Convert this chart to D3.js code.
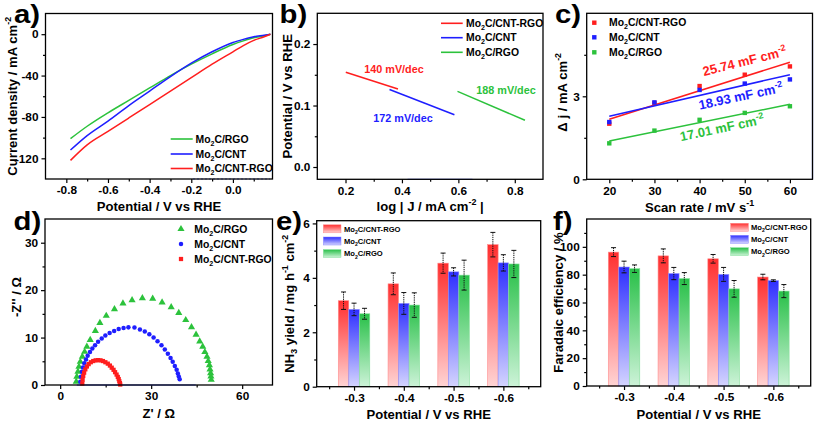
<!DOCTYPE html>
<html><head><meta charset="utf-8">
<script src="https://cdn.jsdelivr.net/npm/d3@7"></script>
<style>
body{margin:0;background:#fff}
svg{display:block}
text{font-family:"Liberation Sans",Arial,sans-serif;font-weight:bold;fill:#000}
</style></head><body>
<svg id="fig" width="817" height="424"></svg>
<script>
// ---------------- DATA ----------------
const seriesNames = ["Mo2C/CNT-RGO", "Mo2C/CNT", "Mo2C/RGO"];

// (a) LSV
const lsvPotential = [-0.78, -0.7, -0.6, -0.5, -0.4, -0.3, -0.2, -0.1, 0, 0.05, 0.1, 0.15, 0.18];
const lsvCntRgo = [-122, -107, -94, -81, -68, -55, -42, -29, -17, -11, -6, -2.5, 0];
const lsvCnt    = [-112, -98, -84, -69, -55, -41, -28, -17, -8, -5, -2.5, -1, 0];
const lsvRgo    = [-101, -89, -76, -64, -52, -40, -29, -19, -10, -6.5, -3.5, -1.5, 0];

// (b) Tafel segments
const tafelCntRgoX = [0.201, 0.386], tafelCntRgoY = [0.154, 0.127];
const tafelCntX    = [0.356, 0.586], tafelCntY    = [0.126, 0.085];
const tafelRgoX    = [0.597, 0.836], tafelRgoY    = [0.123, 0.076];
const tafelLabels  = ["140 mV/dec", "172 mV/dec", "188 mV/dec"];

// (c) double-layer capacitance
const scanRate  = [20, 30, 40, 50, 60];
const cdlCntRgo = [2.01, 2.76, 3.37, 3.78, 4.08];
const cdlCnt    = [2.07, 2.78, 3.23, 3.46, 3.61];
const cdlRgo    = [1.30, 1.76, 2.15, 2.40, 2.64];
const cdlLabels = ["25.74 mF cm", "18.93 mF cm", "17.01 mF cm"];

// (d) Nyquist
const eisRgoRe = [5.3,5.5,5.86,6.2,6.63,7.3,8.07,8.8,9.9,11.6,13.1,15.2,17.9,20.7,23.7,27.1,30.5,33.6,36.6,39.1,41.4,43.3,44.8,46.0,47.0,47.7,48.4,48.8,49.2,49.4,49.6,49.7,49.8];
const eisRgoIm = [0.7,1.75,2.8,3.86,4.9,5.96,7.0,8.07,9.5,11.4,13.1,14.6,16.0,17.2,17.9,18.3,18.2,17.4,16.4,15.2,13.7,12.2,10.6,9.2,8.07,6.95,5.96,5.05,4.2,3.3,2.5,1.8,1.1];
const eisCntRe = [6.63,6.85,7.18,7.51,7.95,8.51,9.06,9.83,10.6,11.5,12.5,13.7,14.9,16.3,17.8,19.3,20.9,22.5,24.5,26.3,27.9,29.4,30.8,32.1,33.4,34.5,35.5,36.4,37.1,37.8,38.4,38.8,39.1,39.4];
const eisCntIm = [0.7,1.75,2.8,3.7,4.56,5.4,6.17,6.95,7.7,8.4,9.12,9.8,10.45,10.95,11.4,11.8,12.0,12.15,12.1,11.7,11.3,10.7,10.0,9.2,8.4,7.5,6.6,5.7,4.9,4.0,3.2,2.4,1.8,1.2];
const eisCntRgoRe = [7.3,7.4,7.6,7.9,8.3,8.8,9.4,10.1,10.9,11.7,12.5,13.3,14.1,14.9,15.7,16.4,17.0,17.6,18.1,18.6,19.0,19.3,19.5,19.7,19.8];
const eisCntRgoIm = [0.3,1.1,1.9,2.6,3.3,3.9,4.4,4.8,5.05,5.2,5.25,5.2,5.05,4.8,4.5,4.1,3.65,3.2,2.7,2.2,1.7,1.25,0.8,0.4,0.1];

// (e) NH3 yield
const potentials = [-0.3, -0.4, -0.5, -0.6];
const nh3CntRgo = [3.16, 3.78, 4.54, 5.22], nh3CntRgoErr = [0.32, 0.40, 0.37, 0.45];
const nh3Cnt    = [2.84, 3.06, 4.22, 4.55], nh3CntErr    = [0.23, 0.40, 0.15, 0.30];
const nh3Rgo    = [2.68, 3.00, 4.10, 4.51], nh3RgoErr    = [0.20, 0.45, 0.55, 0.50];

// (f) Faradaic efficiency
const feCntRgo = [96.2, 93.5, 91.4, 78.3], feCntRgoErr = [3.2, 5.0, 3.1, 2.0];
const feCnt    = [85.5, 80.8, 80.2, 75.7], feCntErr    = [4.2, 4.4, 5.0, 0.6];
const feRgo    = [84.3, 77.2, 69.8, 68.2], feRgoErr    = [2.7, 4.3, 6.0, 4.7];

// ---------------- DRAWING ----------------
const svg = d3.select("#fig");
const COL = {red: "#ff1e1e", blue: "#1e1eff", green: "#2cc23c"};
const TICK_FS = 11.8, TITLE_FS = 13.1;

function rich(t, parts, fs) {
  let shift = 0;
  parts.forEach(([s, k]) => {
    const target = k === "sub" ? fs * 0.3 : k === "sup" ? -fs * 0.42 : 0;
    const ts = t.append("tspan").text(s).attr("dy", target - shift);
    if (k !== "n") ts.attr("font-size", fs * 0.68);
    shift = target;
  });
  return t;
}
const moParts = (rest) => [["Mo", "n"], ["2", "sub"], ["C/" + rest, "n"]];

function styleAxis(sel) {
  sel.select(".domain").remove();
  sel.selectAll("line").attr("stroke", "#000").attr("stroke-width", 1.2);
  sel.selectAll("text").attr("font-size", TICK_FS).attr("font-weight", "bold").attr("fill", "#000")
     .style("font-family", '"Liberation Sans", Arial, sans-serif');
}
function fmt1(d) { return d.toFixed(1); }

function panelLabel(txt, x, y) {
  svg.append("text").attr("transform", `translate(${x},${y}) scale(1.15,1)`).attr("font-size", 25.5).text(txt);
}

function panel(o) {
  const g = svg.append("g");
  const [xa, xb] = o.x.range(), [yb, ya] = o.y.range();
  g.append("g").attr("transform", `translate(0,${yb})`)
    .call(d3.axisBottom(o.x).tickValues(o.xMajor).tickSize(4).tickSizeOuter(0).tickFormat(o.xFmt || (d => d)))
    .call(styleAxis);
  if (o.xMinor) g.append("g").attr("transform", `translate(0,${yb})`)
    .call(d3.axisBottom(o.x).tickValues(o.xMinor).tickSize(2.5).tickSizeOuter(0).tickFormat(""))
    .call(styleAxis);
  g.append("g").attr("transform", `translate(${xa},0)`)
    .call(d3.axisLeft(o.y).tickValues(o.yMajor).tickSize(4).tickSizeOuter(0).tickFormat(o.yFmt || (d => d)))
    .call(styleAxis);
  if (o.yMinor) g.append("g").attr("transform", `translate(${xa},0)`)
    .call(d3.axisLeft(o.y).tickValues(o.yMinor).tickSize(2.5).tickSizeOuter(0).tickFormat(""))
    .call(styleAxis);
  const plot = g.append("g");
  g.append("rect").attr("x", xa).attr("y", ya).attr("width", xb - xa).attr("height", yb - ya)
    .attr("fill", "none").attr("stroke", "#000").attr("stroke-width", 1.3);
  const xt = g.append("text").attr("x", (xa + xb) / 2).attr("y", o.xTitleY).attr("text-anchor", "middle").attr("font-size", TITLE_FS);
  rich(xt, o.xTitle, TITLE_FS);
  const yt = g.append("text").attr("transform", `translate(${o.yTitleX},${(ya + yb) / 2 + (o.yTitleDy || 0)}) rotate(-90)`)
    .attr("text-anchor", "middle").attr("font-size", TITLE_FS);
  rich(yt, o.yTitle, TITLE_FS);
  panelLabel(o.label[0], o.label[1], o.label[2]);
  return plot;
}

function lineLegend(rows, x0, x1, tx, ys, fs) {
  rows.forEach((r, i) => {
    svg.append("line").attr("x1", x0).attr("x2", x1).attr("y1", ys[i]).attr("y2", ys[i])
      .attr("stroke", r.c).attr("stroke-width", 1.6);
    rich(svg.append("text").attr("x", tx).attr("y", ys[i] + fs * 0.35).attr("font-size", fs), moParts(r.n), fs);
  });
}

// ===== (a) =====
{
  const x = d3.scaleLinear().domain([-0.9, 0.19]).range([45.5, 272.5]);
  const y = d3.scaleLinear().domain([-140, 20]).range([179, 13.5]);
  const p = panel({x, y, xMajor: [-0.8, -0.6, -0.4, -0.2, 0], xMinor: [-0.7, -0.5, -0.3, -0.1, 0.1], xFmt: fmt1,
    yMajor: [-120, -80, -40, 0], yMinor: [-100, -60, -20],
    xTitle: [["Potential / V vs RHE", "n"]], xTitleY: 211,
    yTitle: [["Current density / mA cm", "n"], ["-2", "sup"]], yTitleX: 16.5, label: ["a)", 14, 22.5]});
  const ln = d3.line().x(d => x(d[0])).y(d => y(d[1])).curve(d3.curveMonotoneX);
  [[lsvRgo, COL.green], [lsvCnt, COL.blue], [lsvCntRgo, COL.red]].forEach(([v, c]) => {
    p.append("path").attr("d", ln(lsvPotential.map((xv, i) => [xv, v[i]]))).attr("fill", "none")
      .attr("stroke", c).attr("stroke-width", 1.5);
  });
  p.append("line").attr("x1", 193).attr("x2", 270).attr("y1", 179).attr("y2", 179).attr("stroke", "#6a7cff").attr("stroke-width", 1).attr("stroke-dasharray", "2,2");
  lineLegend([{n: "RGO", c: COL.green}, {n: "CNT", c: COL.blue}, {n: "CNT-RGO", c: COL.red}], 170.7, 192.7, 195.5, [139, 154, 168.5], 10.4);
}

// ===== (b) =====
{
  const x = d3.scaleLinear().domain([0.1, 0.9]).range([317.3, 543]);
  const y = d3.scaleLinear().domain([-0.02, 0.25]).range([179.3, 13.3]);
  const p = panel({x, y, xMajor: [0.2, 0.4, 0.6, 0.8], xMinor: [0.3, 0.5, 0.7], xFmt: fmt1,
    yMajor: [0, 0.1, 0.2], yMinor: [0.05, 0.15], yFmt: fmt1,
    xTitle: [["log | J / mA cm", "n"], ["-2", "sup"], [" |", "n"]], xTitleY: 211,
    yTitle: [["Potential / V vs RHE", "n"]], yTitleX: 292, label: ["b)", 279.5, 22.5]});
  p.append("line").attr("x1", x(0.42)).attr("x2", x(0.65)).attr("y1", 179.3).attr("y2", 179.3).attr("stroke", "#4a5cff").attr("stroke-width", 1);
  const segs = [[tafelCntRgoX, tafelCntRgoY, COL.red], [tafelCntX, tafelCntY, COL.blue], [tafelRgoX, tafelRgoY, COL.green]];
  segs.forEach(([xs, ys, c]) => {
    p.append("line").attr("x1", x(xs[0])).attr("y1", y(ys[0])).attr("x2", x(xs[1])).attr("y2", y(ys[1]))
      .attr("stroke", c).attr("stroke-width", 1.5);
  });
  const annPos = [[394, 72.5, COL.red], [403, 121.5, COL.blue], [506, 93.5, COL.green]];
  tafelLabels.forEach((t, i) => svg.append("text").attr("x", annPos[i][0]).attr("y", annPos[i][1]).attr("text-anchor", "middle")
    .attr("font-size", 10.8).style("fill", annPos[i][2]).text(t));
  lineLegend([{n: "CNT-RGO", c: COL.red}, {n: "CNT", c: COL.blue}, {n: "RGO", c: COL.green}], 441, 462.7, 466, [23.3, 37.7, 52.3], 10.4);
}

// ===== (c) =====
{
  const x = d3.scaleLinear().domain([15, 65]).range([586.7, 812.5]);
  const y = d3.scaleLinear().domain([0, 6]).range([179.3, 13.3]);
  const p = panel({x, y, xMajor: [20, 30, 40, 50, 60], xMinor: [25, 35, 45, 55],
    yMajor: [0, 3], yMinor: [1.5, 4.5],
    xTitle: [["Scan rate / mV s", "n"], ["-1", "sup"]], xTitleY: 211.5,
    yTitle: [["\u0394 j / mA cm", "n"], ["-2", "sup"]], yTitleX: 566.5, yTitleDy: -4, label: ["c)", 555, 22.5]});
  p.append("line").attr("x1", 812.5).attr("x2", 812.5).attr("y1", 40).attr("y2", 179).attr("stroke", "#4a5cff").attr("stroke-width", 1.2);
  const sets = [[cdlCntRgo, COL.red], [cdlCnt, COL.blue], [cdlRgo, COL.green]];
  sets.forEach(([v, c]) => {
    const mx = d3.mean(scanRate), my = d3.mean(v);
    const slope = d3.sum(scanRate, (s, i) => (s - mx) * (v[i] - my)) / d3.sum(scanRate, s => (s - mx) ** 2);
    const f = s => my + slope * (s - mx);
    p.append("line").attr("x1", x(20)).attr("y1", y(f(20))).attr("x2", x(60)).attr("y2", y(f(60)))
      .attr("stroke", c).attr("stroke-width", 1.5);
    p.selectAll(null).data(scanRate).enter().append("rect")
      .attr("x", d => x(d) - 2.2).attr("y", (d, i) => y(v[i]) - 2.2).attr("width", 4.4).attr("height", 4.4).attr("fill", c);
  });
  const ann = [[745.7, 61.7, -14, COL.red], [741.7, 96.7, -12, COL.blue], [723, 128.3, -12, COL.green]];
  cdlLabels.forEach((t, i) => {
    const tx = svg.append("text").attr("transform", `translate(${ann[i][0]},${ann[i][1] + 4}) rotate(${ann[i][2]})`)
      .attr("text-anchor", "middle").attr("font-size", 13).style("fill", ann[i][3]);
    rich(tx, [[t, "n"], ["-2", "sup"]], 13);
    tx.selectAll("tspan").style("fill", ann[i][3]);
  });
  [[COL.red, "CNT-RGO"], [COL.blue, "CNT"], [COL.green, "RGO"]].forEach(([c, n], i) => {
    const yy = [22.7, 37.3, 52.3][i];
    svg.append("rect").attr("x", 594.3 - 2.2).attr("y", yy - 2.2).attr("width", 4.4).attr("height", 4.4).attr("fill", c);
    rich(svg.append("text").attr("x", 609).attr("y", yy + 3.6).attr("font-size", 10.4), moParts(n), 10.4);
  });
}

// ===== (d) =====
{
  const x = d3.scaleLinear().domain([-5, 70]).range([45, 272.5]);
  const y = d3.scaleLinear().domain([0, 35]).range([385, 219]);
  const p = panel({x, y, xMajor: [0, 30, 60], xMinor: [15, 45],
    yMajor: [0, 10, 20, 30], yMinor: [5, 15, 25],
    xTitle: [["Z' / \u03A9", "n"]], xTitleY: 417.5,
    yTitle: [["-Z'' / \u03A9", "n"]], yTitleX: 20.5, yTitleDy: -5, label: ["d)", 13.5, 229.5]});
  p.append("line").attr("x1", x(5.5)).attr("x2", x(44.7)).attr("y1", 385).attr("y2", 385).attr("stroke", "#3a4cff").attr("stroke-width", 1.2);
  const tri = d3.symbol().type(d3.symbolTriangle).size(22);
  const circ = d3.symbol().type(d3.symbolCircle).size(16);
  const sq = d3.symbol().type(d3.symbolSquare).size(18);
  p.selectAll(null).data(eisRgoRe).enter().append("path").attr("d", tri)
    .attr("transform", (d, i) => `translate(${x(d)},${y(eisRgoIm[i])})`).attr("fill", COL.green);
  p.selectAll(null).data(eisCntRe).enter().append("path").attr("d", circ)
    .attr("transform", (d, i) => `translate(${x(d)},${y(eisCntIm[i])})`).attr("fill", COL.blue);
  p.selectAll(null).data(eisCntRgoRe).enter().append("path").attr("d", sq)
    .attr("transform", (d, i) => `translate(${x(d)},${y(eisCntRgoIm[i])})`).attr("fill", COL.red);
  [[tri, COL.green, "RGO"], [circ, COL.blue, "CNT"], [sq, COL.red, "CNT-RGO"]].forEach(([s, c, n], i) => {
    const yy = [229, 244, 259][i];
    svg.append("path").attr("d", s).attr("transform", `translate(181,${yy})`).attr("fill", c);
    rich(svg.append("text").attr("x", 194.3).attr("y", yy + 3.6).attr("font-size", 10.4), moParts(n), 10.4);
  });
}

// ===== gradients =====
const defs = svg.append("defs");
const GRAD = {
  red:   ["#ff2e2e", "#ffd4d4", "#ff8c8c"],
  blue:  ["#2e2eff", "#d4d4ff", "#8c8cff"],
  green: ["#28c048", "#cdf3d8", "#86df9c"]
};
Object.entries(GRAD).forEach(([k, [top, bot]]) => {
  const lg = defs.append("linearGradient").attr("id", "g-" + k).attr("x1", 0).attr("y1", 0).attr("x2", 0).attr("y2", 1);
  lg.append("stop").attr("offset", "0%").attr("stop-color", top);
  lg.append("stop").attr("offset", "100%").attr("stop-color", bot);
});

function barPanel(o, sets, legendX, legendTextX, legendYs) {
  const x = d3.scaleLinear().domain([-0.225, -0.675]).range(o.xr);
  const y = d3.scaleLinear().domain(o.yd).range(o.yr);
  const p = panel({x, y, xMajor: potentials, xMinor: [-0.25, -0.35, -0.45, -0.55, -0.65], xFmt: fmt1,
    yMajor: o.yMajor, yMinor: o.yMinor,
    xTitle: [["Potential / V vs RHE", "n"]], xTitleY: 418.5,
    yTitle: o.yTitle, yTitleX: o.yTitleX, label: o.label});
  const bw = 10.5;
  sets.forEach(([v, e, k], si) => {
    const off = (si - 1) * bw;
    p.selectAll(null).data(potentials).enter().append("rect")
      .attr("x", d => x(d) + off - bw / 2).attr("width", bw)
      .attr("y", (d, i) => y(v[i])).attr("height", (d, i) => y(0) - y(v[i]))
      .attr("fill", `url(#g-${k})`).attr("stroke", GRAD[k][2]).attr("stroke-width", 0.6);
    potentials.forEach((d, i) => {
      const cx = x(d) + off, y1 = y(v[i] + e[i]), y2 = y(v[i] - e[i]);
      p.append("line").attr("x1", cx).attr("x2", cx).attr("y1", y1).attr("y2", y2)
        .attr("stroke", "#111").attr("stroke-width", 1).attr("stroke-dasharray", "1.3,0.9");
      [y1, y2].forEach(yy => p.append("line").attr("x1", cx - 2.5).attr("x2", cx + 2.5).attr("y1", yy).attr("y2", yy)
        .attr("stroke", "#111").attr("stroke-width", 1));
    });
  });
  [["red", "CNT-RGO"], ["blue", "CNT"], ["green", "RGO"]].forEach(([k, n], i) => {
    const yy = legendYs[i];
    svg.append("rect").attr("x", legendX).attr("y", yy - 4).attr("width", 17.7).attr("height", 8)
      .attr("fill", `url(#g-${k})`).attr("stroke", GRAD[k][2]).attr("stroke-width", 0.5);
    rich(svg.append("text").attr("x", legendTextX).attr("y", yy + 2.7).attr("font-size", 7.6), moParts(n), 7.6);
  });
}

// ===== (e) =====
barPanel({xr: [316.7, 540.7], yd: [0, 6.1], yr: [386.7, 220.7], yMajor: [0, 2, 4, 6], yMinor: [1, 3, 5],
  yTitle: [["NH", "n"], ["3", "sub"], [" yield / mg h", "n"], ["-1", "sup"], [" cm", "n"], ["-2", "sup"]],
  yTitleX: 293.5, label: ["e)", 276, 230]},
  [[nh3CntRgo, nh3CntRgoErr, "red"], [nh3Cnt, nh3CntErr, "blue"], [nh3Rgo, nh3RgoErr, "green"]],
  323.3, 344, [228.8, 241, 253.6]);

// ===== (f) =====
barPanel({xr: [586.7, 810.7], yd: [0, 120], yr: [386, 219], yMajor: [0, 20, 40, 60, 80, 100], yMinor: [10, 30, 50, 70, 90, 110],
  yTitle: [["Faradaic efficiency / %", "n"]], yTitleX: 562.5, label: ["f)", 553, 230]},
  [[feCntRgo, feCntRgoErr, "red"], [feCnt, feCntErr, "blue"], [feRgo, feRgoErr, "green"]],
  730.7, 751, [227.3, 239.3, 251.7]);
</script>
</body></html>
